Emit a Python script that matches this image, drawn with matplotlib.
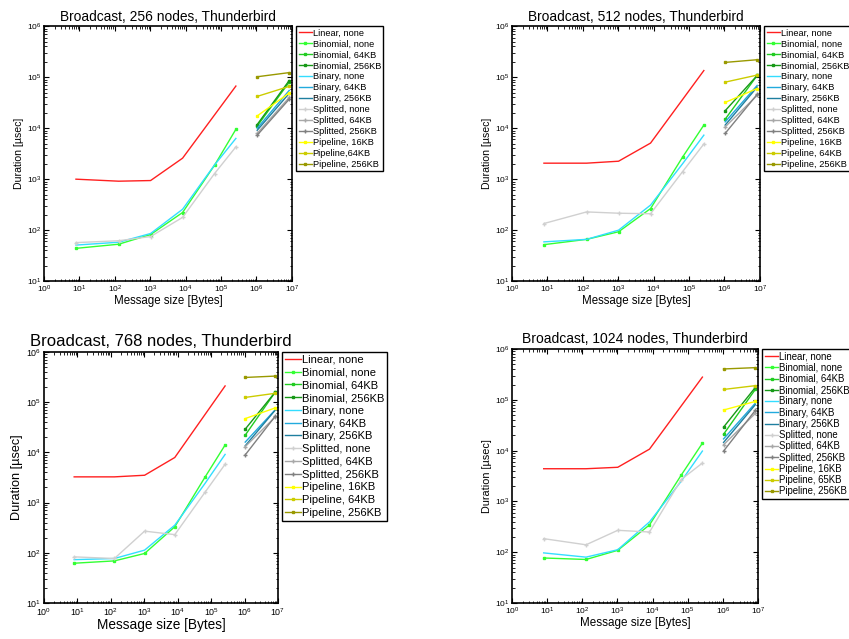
import matplotlib
matplotlib.use('Agg')
import matplotlib.pyplot as plt

plt.rcParams['font.family'] = ['Liberation Sans', 'DejaVu Sans']
plt.rcParams['mathtext.fontset'] = 'custom'
plt.rcParams['mathtext.rm'] = 'Liberation Sans'
plt.rcParams['mathtext.it'] = 'Liberation Sans'

# message sizes in bytes
sizes_lin = [8, 128, 1024, 8192, 262144]
sizes_small = [8, 128, 1024, 8192, 65536, 262144]
sizes_seg = [1048576, 8388608]

labels = ['Linear, none',
          'Binomial, none', 'Binomial, 64KB', 'Binomial, 256KB',
          'Binary, none', 'Binary, 64KB', 'Binary, 256KB',
          'Splitted, none', 'Splitted, 64KB', 'Splitted, 256KB',
          'Pipeline, 16KB', 'Pipeline, 64KB', 'Pipeline, 256KB']
colors = ['#ff2020',
          '#33ff33', '#22cc22', '#179917',
          '#33ddff', '#22aadd', '#1f7f9f',
          '#d0d0d0', '#a8a8a8', '#808080',
          '#ffff00', '#cccc00', '#999900']

nodes = [256, 512, 768, 1024]

# durations in usec, small messages (linear / binomial / binary / splitted, no segmentation)
linear_256 = [1000, 913, 940, 2580, 67000]
binomial_256 = [44, 53, 82, 222, 1880, 9500]
binary_256 = [51, 58, 86, 257, 1900, 6300]
splitted_256 = [57, 62, 75, 178, 1290, 4300]

linear_512 = [2060, 2060, 2250, 5100, 135000]
binomial_512 = [52, 66, 93, 265, 2700, 11500]
binary_512 = [59, 66, 100, 310, 2000, 7300]
splitted_512 = [135, 228, 215, 210, 1400, 4900]

linear_768 = [3250, 3250, 3500, 7900, 210000]
binomial_768 = [62, 69, 97, 330, 3200, 14000]
binary_768 = [73, 77, 113, 355, 2400, 9100]
splitted_768 = [83, 77, 270, 230, 1600, 5800]

linear_1024 = [4400, 4400, 4700, 10700, 280000]
binomial_1024 = [77, 72, 109, 345, 3300, 14000]
binary_1024 = [97, 80, 112, 395, 2500, 9800]
splitted_1024 = [185, 140, 270, 250, 2700, 5700]

# segmented runs at 1MB and 8MB, in legend order:
# binomial 64/256, binary 64/256, splitted 64/256, pipeline 16/64/256
seg_256 = [[11000, 80000], [11800, 86000], [10000, 55000], [9100, 48000],
           [7900, 40000], [7300, 37000], [17400, 49000], [42000, 66000],
           [102000, 123000]]
seg_512 = [[15000, 108000], [22000, 108000], [13300, 69000], [11500, 64000],
           [10600, 44000], [7900, 46000], [32000, 60000], [80000, 110000],
           [195000, 220000]]
seg_768 = [[22000, 160000], [29000, 160000], [16000, 71000], [13500, 70000],
           [13000, 51000], [8900, 53000], [47000, 77000], [124000, 150000],
           [310000, 330000]]
seg_1024 = [[21000, 160000], [29000, 175000], [17000, 86000], [14500, 80000],
            [13000, 54000], [9800, 62000], [63000, 93000], [160000, 190000],
            [405000, 430000]]

small_data = {256: (linear_256, binomial_256, binary_256, splitted_256),
              512: (linear_512, binomial_512, binary_512, splitted_512),
              768: (linear_768, binomial_768, binary_768, splitted_768),
              1024: (linear_1024, binomial_1024, binary_1024, splitted_1024)}
seg_data = {256: seg_256, 512: seg_512, 768: seg_768, 1024: seg_1024}

# axes rectangles in figure fraction and font sizes (title, xlabel, ylabel, legend, ticks)
rects = {256: [0.0518, 0.560, 0.292, 0.399],
         512: [0.603, 0.560, 0.292, 0.399],
         768: [0.0518, 0.0563, 0.2756, 0.393],
         1024: [0.603, 0.0563, 0.2898, 0.3975]}
fonts = {256: (9.9, 8.3, 7.6, 6.7, 6.0),
         512: (9.9, 8.3, 7.6, 6.7, 6.0),
         768: (12.0, 9.8, 9.1, 8.0, 6.4),
         1024: (10.0, 8.4, 7.8, 6.9, 6.0)}
leg_spacing = {256: 0.21, 512: 0.21, 768: 0.25, 1024: 0.13}

fig = plt.figure(figsize=(8.49, 6.39), dpi=100)

for n in nodes:
    ax = fig.add_axes(rects[n])
    fs_title, fs_x, fs_y, fs_leg, fs_tick = fonts[n]
    lin, bino, bina, spl = small_data[n]
    seg = seg_data[n]

    lines = []
    lines += ax.plot(sizes_lin, lin, color=colors[0], lw=1.0)
    lines += ax.plot(sizes_small, bino, color=colors[1], lw=1.0, marker='s', ms=2)
    lines += ax.plot(sizes_seg, seg[0], color=colors[2], lw=1.0, marker='s', ms=2)
    lines += ax.plot(sizes_seg, seg[1], color=colors[3], lw=1.0, marker='s', ms=2)
    lines += ax.plot(sizes_small, bina, color=colors[4], lw=1.0)
    lines += ax.plot(sizes_seg, seg[2], color=colors[5], lw=1.0)
    lines += ax.plot(sizes_seg, seg[3], color=colors[6], lw=1.0)
    lines += ax.plot(sizes_small, spl, color=colors[7], lw=1.0, marker='+', ms=3.5)
    lines += ax.plot(sizes_seg, seg[4], color=colors[8], lw=1.0, marker='+', ms=3.5)
    lines += ax.plot(sizes_seg, seg[5], color=colors[9], lw=1.0, marker='+', ms=3.5)
    for k in range(3):
        lines += ax.plot(sizes_seg, seg[6 + k], color=colors[10 + k], lw=1.0,
                         marker='s', ms=2)

    ax.set_xscale('log')
    ax.set_yscale('log')
    ax.set_xlim(1, 1e7)
    ax.set_ylim(10, 1e6)
    ax.tick_params(which='both', direction='in', top=True, right=True,
                   labelsize=fs_tick, pad=2)
    ax.tick_params(which='major', length=3.5, width=0.8)
    ax.tick_params(which='minor', length=1.8, width=0.6)
    for sp in ax.spines.values():
        sp.set_linewidth(1.2)

    ax.set_title('Broadcast, %d nodes, Thunderbird' % n, fontsize=fs_title, pad=4)
    ax.set_xlabel('Message size [Bytes]', fontsize=fs_x, labelpad=0)
    ax.set_ylabel('Duration [\u00b5sec]', fontsize=fs_y, labelpad=2)

    leg_labels = list(labels)
    if n == 256:
        leg_labels[11] = 'Pipeline,64KB'
    if n == 1024:
        leg_labels[11] = 'Pipeline, 65KB'
    leg = ax.legend(lines, leg_labels, loc='upper left', bbox_to_anchor=(1.018, 1.0),
                    borderaxespad=0, fontsize=fs_leg, labelspacing=leg_spacing[n],
                    handlelength=1.4, handletextpad=0.1, borderpad=0.25,
                    numpoints=1, fancybox=False, framealpha=1, edgecolor='black')
    leg.get_frame().set_linewidth(1.0)

fig.savefig('out.png', dpi=100)
